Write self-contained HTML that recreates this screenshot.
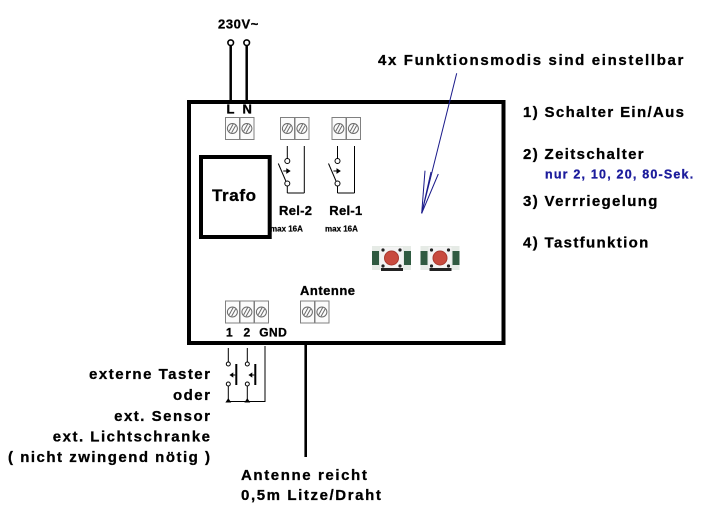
<!DOCTYPE html>
<html><head><meta charset="utf-8"><style>
html,body{margin:0;padding:0;background:#fff;}
svg{display:block;}
text{font-family:"Liberation Sans",Arial,sans-serif;font-weight:bold;fill:#000;stroke:#000;stroke-width:0.3px;}
</style></head><body>
<svg width="709" height="531" viewBox="0 0 709 531" xmlns="http://www.w3.org/2000/svg">
<defs>
<g id="cell">
<rect x="0.5" y="0.5" width="14" height="22" fill="#fbfbfb" stroke="#808080" stroke-width="1"/>
<circle cx="7.4" cy="11.5" r="5" fill="none" stroke="#6a6a6a" stroke-width="1"/>
<line x1="4.2" y1="14.2" x2="8.2" y2="7" stroke="#6a6a6a" stroke-width="1"/>
<line x1="6.6" y1="15.8" x2="10.6" y2="8.6" stroke="#6a6a6a" stroke-width="1"/>
</g>
<g id="btn">
<rect x="0" y="0" width="39" height="24" fill="#e6ebe6"/>
<rect x="0" y="5" width="7" height="14" fill="#2f5a40"/>
<rect x="32" y="5" width="7" height="14" fill="#2f5a40"/>
<rect x="8" y="1" width="23" height="21" fill="#f3f3f3"/>
<circle cx="19.5" cy="12" r="7" fill="#c84a3e" stroke="#a8382e" stroke-width="1"/>
<circle cx="11" cy="4" r="1.6" fill="#222"/>
<circle cx="28" cy="4" r="1.6" fill="#222"/>
<circle cx="11" cy="20" r="1.6" fill="#222"/>
<circle cx="28" cy="20" r="1.6" fill="#222"/>
<rect x="9" y="22" width="22" height="3" fill="#222"/>
</g>
<g id="relay" fill="none" stroke="#000" stroke-width="1">
<line x1="0" y1="146" x2="0" y2="158.5"/>
<circle cx="0" cy="161" r="2.5" fill="#fff"/>
<line x1="-9" y1="163.5" x2="-1.5" y2="181"/>
<line x1="-4" y1="171" x2="2" y2="171"/>
<path d="M2.5 171 L-0.5 169 L-0.5 173 Z" fill="#000"/>
<circle cx="0" cy="183.5" r="2.5" fill="#fff"/>
<line x1="0" y1="186" x2="0" y2="193"/>
<line x1="0" y1="193" x2="17" y2="193"/>
<line x1="17" y1="146" x2="17" y2="193"/>
</g>
<g id="taster" fill="none" stroke="#000" stroke-width="1">
<line x1="0" y1="348" x2="0" y2="362"/>
<circle cx="0" cy="364" r="2" fill="#fff"/>
<circle cx="0" cy="384" r="2" fill="#fff"/>
<line x1="0" y1="386" x2="0" y2="401"/>
<line x1="8" y1="364" x2="8" y2="385" stroke-width="2"/>
<line x1="3" y1="375" x2="7" y2="375"/>
<path d="M2 375 L4.5 373.3 L4.5 376.7 Z" fill="#000"/>
<path d="M0 399 L-2 402 L2 402 Z" fill="#000"/>
</g>
</defs>

<!-- 230V wires -->
<text x="218" y="28.3" font-size="13" letter-spacing="0.6">230V~</text>
<circle cx="230.7" cy="42.7" r="2.8" fill="#fff" stroke="#000" stroke-width="1.6"/>
<circle cx="246.7" cy="42.7" r="2.8" fill="#fff" stroke="#000" stroke-width="1.6"/>
<line x1="230.7" y1="45.5" x2="230.7" y2="100" stroke="#000" stroke-width="2.5"/>
<line x1="246.7" y1="45.5" x2="246.7" y2="100" stroke="#000" stroke-width="2.5"/>

<!-- main box -->
<rect x="189" y="102" width="314.5" height="241" fill="none" stroke="#000" stroke-width="4"/>

<!-- L N -->
<text x="226.5" y="113.3" font-size="13">L</text>
<text x="242.5" y="113.3" font-size="13">N</text>

<!-- top terminals -->
<use href="#cell" x="225" y="117"/>
<use href="#cell" x="239.5" y="117"/>
<use href="#cell" x="280" y="117"/>
<use href="#cell" x="294.5" y="117"/>
<use href="#cell" x="331.5" y="117"/>
<use href="#cell" x="346" y="117"/>

<!-- Trafo -->
<rect x="201" y="157" width="68.7" height="80" fill="none" stroke="#000" stroke-width="4"/>
<text x="212" y="201" font-size="17" letter-spacing="0.6">Trafo</text>

<!-- relays -->
<use href="#relay" x="287.3" y="0"/>
<use href="#relay" x="337.5" y="0"/>
<text x="279" y="215" font-size="13" letter-spacing="0.3">Rel-2</text>
<text x="329.3" y="215" font-size="13" letter-spacing="0.3">Rel-1</text>
<text x="270" y="231.7" font-size="8" style="stroke-width:0.2px">max 16A</text>
<text x="325" y="231.7" font-size="8" style="stroke-width:0.2px">max 16A</text>

<!-- buttons -->
<use href="#btn" x="372" y="246"/>
<use href="#btn" x="420.5" y="246"/>

<!-- arrow -->
<g stroke="#1a1a8a" stroke-width="1" fill="none">
<line x1="456.7" y1="73.3" x2="421.7" y2="213.3"/>
<line x1="421.7" y1="213.3" x2="425" y2="170.7"/>
<line x1="421.7" y1="213.3" x2="438.3" y2="174"/>
<line x1="421.7" y1="213.3" x2="431" y2="172"/>
</g>
<text x="378" y="65" font-size="15" letter-spacing="1.65">4x Funktionsmodis sind einstellbar</text>

<!-- right list -->
<text x="523" y="117" font-size="15" letter-spacing="1.35">1) Schalter Ein/Aus</text>
<text x="523" y="159" font-size="15" letter-spacing="1.35">2) Zeitschalter</text>
<text x="545" y="178.3" font-size="12.5" letter-spacing="1.2" style="fill:#1c1c9c;stroke:#1c1c9c">nur 2, 10, 20, 80-Sek.</text>
<text x="523" y="206" font-size="15" letter-spacing="1.35">3) Verrriegelung</text>
<text x="523" y="247.5" font-size="15" letter-spacing="1.35">4) Tastfunktion</text>

<!-- bottom terminals -->
<text x="300" y="295" font-size="13" letter-spacing="0.5">Antenne</text>
<use href="#cell" x="225" y="300.5"/>
<use href="#cell" x="239.5" y="300.5"/>
<use href="#cell" x="254" y="300.5"/>
<use href="#cell" x="300" y="300.5"/>
<use href="#cell" x="314.5" y="300.5"/>
<text x="226" y="336.7" font-size="12">1</text>
<text x="243.5" y="336.7" font-size="12">2</text>
<text x="259.3" y="336.7" font-size="12" letter-spacing="0.4">GND</text>

<!-- external taster -->
<use href="#taster" x="228.3" y="0"/>
<use href="#taster" x="247.3" y="0"/>
<line x1="265" y1="346" x2="265" y2="401.5" stroke="#000" stroke-width="1"/>
<line x1="228.3" y1="401.5" x2="265.5" y2="401.5" stroke="#000" stroke-width="1"/>

<!-- antenna wire -->
<line x1="305.7" y1="345" x2="305.7" y2="457" stroke="#000" stroke-width="2.6"/>

<!-- left text -->
<g font-size="15" letter-spacing="1.5" text-anchor="end">
<text x="211.5" y="379">externe Taster</text>
<text x="211.5" y="400">oder</text>
<text x="211.5" y="421">ext. Sensor</text>
<text x="211.5" y="441.5">ext. Lichtschranke</text>
<text x="211.5" y="462">( nicht zwingend nötig )</text>
</g>

<!-- antenna text -->
<text x="241" y="480" font-size="15" letter-spacing="1.6">Antenne reicht</text>
<text x="241" y="500" font-size="15" letter-spacing="1.6">0,5m Litze/Draht</text>
</svg>
</body></html>
